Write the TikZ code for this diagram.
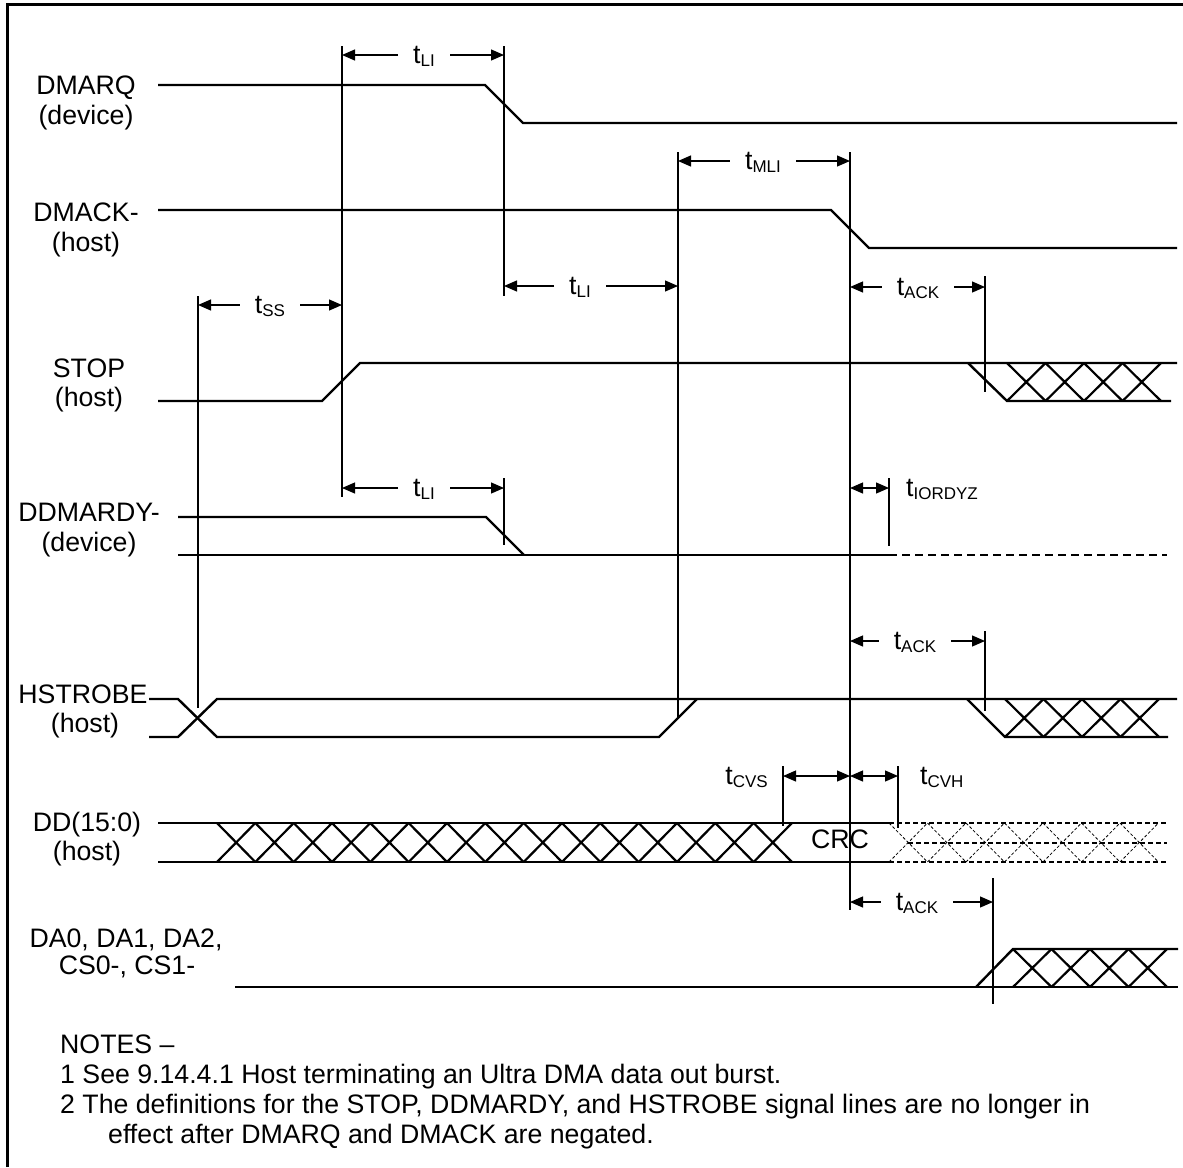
\documentclass[tikz,border=0pt]{standalone}
\usepackage{fontspec}
\setmainfont{Liberation Sans}
\usetikzlibrary{positioning,arrows.meta}
\newcommand{\tsub}[1]{t\raisebox{-2.5pt}{\fontsize{17}{17}\selectfont #1}}

\begin{document}
\begin{tikzpicture}[x=1pt,y=-1pt,>={Triangle[length=13pt,width=11pt]},
  every node/.style={inner sep=0pt,font=\fontsize{26.7}{29}\selectfont},
  wave/.style={line width=2.4pt},
  xwave/.style={line width=2.2pt},
  vline/.style={line width=1.2pt},
  tarrow/.style={line width=1.2pt,->},
  tarrow2/.style={line width=1.2pt,<->},
  tlab/.style={inner xsep=15pt,text height=17pt,text depth=0pt},
  lbl/.style={anchor=base},
  fut/.style={line width=1.6pt,dash pattern=on 8pt off 5pt},
  busfut/.style={line width=1.3pt,dash pattern=on 5pt off 3pt},
  xfut/.style={line width=0.8pt,dash pattern=on 3pt off 2pt}]
\useasboundingbox (0,0) rectangle (1183,1167);
\draw[line width=3pt] (7,1167) -- (7,4) -- (1183,4);

% signal names
\node[lbl] (dmarq) at (86,94) {DMARQ};
\node[lbl] (dmarqd) at (86,124) {(device)};
\node[lbl] (dmack) at (86,221) {DMACK-};
\node[lbl] (dmackh) at (86,251) {(host)};
\node[lbl] (stop) at (89,377) {STOP};
\node[lbl] (stoph) at (89,406) {(host)};
\node[lbl] (ddmardy) at (89,521) {DDMARDY-};
\node[lbl] (ddmardyd) at (89,551) {(device)};
\node[lbl] (hstrobe) at (83,703) {HSTROBE};
\node[lbl] (hstrobeh) at (85,732) {(host)};
\node[lbl] (dd) at (87,831) {DD(15:0)};
\node[lbl] (ddh) at (87,860) {(host)};
\node[lbl] (da) at (126,947) {DA0, DA1, DA2,};
\node[lbl] (cs) at (127,974) {CS0-, CS1-};
\node[lbl] (crc) at (840,848) {CRC};

% waveforms
\draw[wave] (158,85) -- (485,85) -- (523,123) -- (1177,123);
\draw[wave] (158,210) -- (831,210) -- (869,248) -- (1177,248);
\draw[wave] (158,401) -- (322,401) -- (360,363) -- (1177,363);
\draw[wave] (968,363) -- (1007,401) -- (1171,401);
\foreach \i in {0,...,3}
  \draw[xwave] ({1007+38.5*\i},401) -- ({1045.5+38.5*\i},363)
               ({1007+38.5*\i},363) -- ({1045.5+38.5*\i},401);
\draw[wave] (178,517) -- (486,517) -- (524,555);
\draw[wave] (178,555) -- (889,555);
\draw[fut] (889,555) -- (1167,555);
\draw[wave] (149,699) -- (178,699) -- (217,737) -- (659,737) -- (697,699);
\draw[wave] (149,737) -- (178,737) -- (217,699) -- (1177,699);
\draw[wave] (967,699) -- (1005,737) -- (1168,737);
\foreach \i in {0,...,3}
  \draw[xwave] ({1005+38.5*\i},737) -- ({1043.5+38.5*\i},699)
               ({1005+38.5*\i},699) -- ({1043.5+38.5*\i},737);
\draw[wave] (158,823) -- (889,823);
\draw[wave] (158,862) -- (889,862);
\foreach \i in {0,...,14}
  \draw[xwave] ({217+38.33*\i},823) -- ({255.33+38.33*\i},862)
               ({217+38.33*\i},862) -- ({255.33+38.33*\i},823);
\draw[busfut] (889,823) -- (1167,823);
\draw[busfut] (889,862) -- (1167,862);
\draw[busfut] (908,843) -- (1167,843);
\foreach \i in {0,...,6}
  \draw[xfut] ({889+38.5*\i},823) -- ({927.5+38.5*\i},862)
              ({889+38.5*\i},862) -- ({927.5+38.5*\i},823);
\draw[wave] (235,987) -- (1178,987);
\draw[wave] (976,987) -- (1013,949) -- (1178,949);
\foreach \i in {0,...,3}
  \draw[xwave] ({1013+38.5*\i},987) -- ({1051.5+38.5*\i},949)
               ({1013+38.5*\i},949) -- ({1051.5+38.5*\i},987);

% timing edges
\coordinate (v1t) at (198,296); \coordinate (v1b) at (198,708);
\coordinate (v2t) at (342,46);  \coordinate (v2b) at (342,497);
\coordinate (v3t) at (504,46);  \coordinate (v3b) at (504,296);
\coordinate (v3c) at (504,478); \coordinate (v3d) at (504,545);
\coordinate (v4t) at (678,152); \coordinate (v4b) at (678,717);
\coordinate (v5t) at (850,152); \coordinate (v5b) at (850,910);
\coordinate (k1t) at (985,276); \coordinate (k1b) at (985,392);
\coordinate (k2t) at (889,478); \coordinate (k2b) at (889,546);
\coordinate (k3t) at (985,631); \coordinate (k3b) at (985,711);
\coordinate (k4t) at (783,766); \coordinate (k4b) at (783,826);
\coordinate (k5t) at (898,766); \coordinate (k5b) at (898,828);
\coordinate (k6t) at (993,878); \coordinate (k6b) at (993,1004);
\foreach \a in {v1,v2,v3,v4,v5,k1,k2,k3,k4,k5,k6}
  \draw[vline] (\a t) -- (\a b);
\draw[vline] (v3c) -- (v3d);

% timing labels
\node[tlab] (li1) at (424,55) {\tsub{LI}};
\draw[tarrow] (li1) -- (li1 -| v2t);
\draw[tarrow] (li1) -- (li1 -| v3t);
\node[tlab] (mli) at (763,161) {\tsub{MLI}};
\draw[tarrow] (mli) -- (mli -| v4t);
\draw[tarrow] (mli) -- (mli -| v5t);
\node[tlab] (li2) at (580,286) {\tsub{LI}};
\draw[tarrow] (li2) -- (li2 -| v3t);
\draw[tarrow] (li2) -- (li2 -| v4t);
\node[tlab] (ss) at (270,305) {\tsub{SS}};
\draw[tarrow] (ss) -- (ss -| v1t);
\draw[tarrow] (ss) -- (ss -| v2t);
\node[tlab] (ack1) at (918,287) {\tsub{ACK}};
\draw[tarrow] (ack1) -- (ack1 -| v5t);
\draw[tarrow] (ack1) -- (ack1 -| k1t);
\node[tlab] (li3) at (424,488) {\tsub{LI}};
\draw[tarrow] (li3) -- (li3 -| v2t);
\draw[tarrow] (li3) -- (li3 -| v3c);
\node[tlab,anchor=west,inner xsep=0pt] (iordyz) at (906,488) {\tsub{IORDYZ}};
\draw[tarrow2] (v5t |- iordyz) -- (k2t |- iordyz);
\node[tlab] (ack2) at (915,641) {\tsub{ACK}};
\draw[tarrow] (ack2) -- (ack2 -| v5t);
\draw[tarrow] (ack2) -- (ack2 -| k3t);
\node[tlab,anchor=east,inner xsep=0pt] (cvs) at (768,776) {\tsub{CVS}};
\draw[tarrow2] (k4t |- cvs) -- (v5t |- cvs);
\node[tlab,anchor=west,inner xsep=0pt] (cvh) at (920,776) {\tsub{CVH}};
\draw[tarrow2] (v5t |- cvh) -- (k5t |- cvh);
\node[tlab] (ack3) at (917,902) {\tsub{ACK}};
\draw[tarrow] (ack3) -- (ack3 -| v5t);
\draw[tarrow] (ack3) -- (ack3 -| k6t);

% notes
\node[anchor=base west] (notes) at (60,1053) {NOTES –};
\node[anchor=base west] (note1) at (60,1083) {1 See 9.14.4.1 Host terminating an Ultra DMA data out burst.};
\node[anchor=base west] (note2) at (60,1113) {2 The definitions for the STOP, DDMARDY, and HSTROBE signal lines are no longer in};
\node[anchor=base west] (note3) at (108,1143) {effect after DMARQ and DMACK are negated.};
\end{tikzpicture}
\end{document}
